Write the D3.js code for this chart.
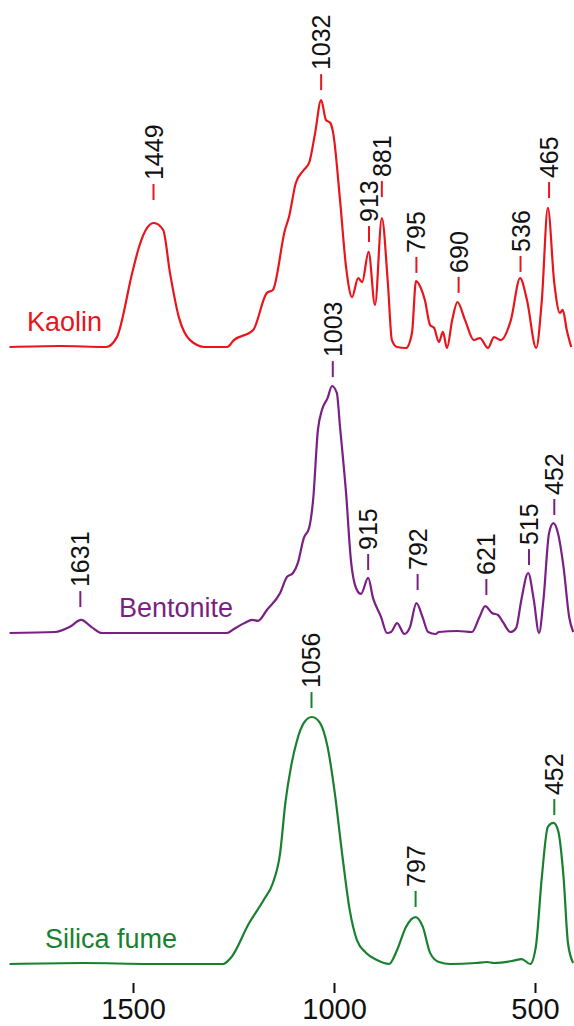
<!DOCTYPE html>
<html>
<head>
<meta charset="utf-8">
<script src="https://cdn.jsdelivr.net/npm/d3@7"></script>
<style>
  body { margin: 0; background: #fff; }
  svg { display: block; }
  text { font-family: "Liberation Sans", Arial, sans-serif; }
</style>
</head>
<body>
<svg id="ftir" width="574" height="1026"></svg>
<script>
// spectra: [wavenumber cm-1, normalised absorbance]
const kaolin = [
  [1807, 0], [1682, 0.004], [1567, 0], [1540, 0.04], [1502, 0.3], [1485, 0.405],
  [1465, 0.482], [1448, 0.502], [1425, 0.474], [1408, 0.3], [1386, 0.121], [1358, 0.028],
  [1321, 0], [1266, 0], [1249, 0.028], [1201, 0.069], [1167, 0.219], [1152, 0.231],
  [1122, 0.474], [1112, 0.526], [1095, 0.664], [1075, 0.717], [1062, 0.745], [1047, 0.866],
  [1032, 1.0], [1020, 0.919], [1009, 0.907], [1002, 0.866], [985, 0.595], [970, 0.324],
  [955, 0.202], [940, 0.279], [930, 0.263], [914, 0.385], [898, 0.17], [881, 0.522],
  [866, 0.259], [856, 0.028], [843, 0], [821, -0.004], [806, 0.057], [796, 0.267],
  [784, 0.239], [774, 0.19], [761, 0.089], [751, 0.077], [739, 0.02], [729, 0.061],
  [719, -0.004], [706, 0.109], [693, 0.182], [674, 0.109], [652, 0.028], [637, 0.036],
  [617, -0.004], [602, 0.04], [585, 0.028], [560, 0.109], [537, 0.279], [520, 0.19],
  [497, -0.004], [483, 0.19], [468, 0.563], [452, 0.259], [438, 0.138], [431, 0.15],
  [421, 0.069], [410, 0]
];

const bentonite = [
  [1807, 0], [1694, 0.004], [1658, 0.024], [1629, 0.053], [1603, 0.024], [1577, 0],
  [1433, 0], [1266, 0], [1249, 0.016], [1223, 0.04], [1203, 0.053], [1189, 0.049],
  [1167, 0.093], [1134, 0.162], [1117, 0.227], [1102, 0.243], [1090, 0.283], [1075, 0.385],
  [1062, 0.425], [1052, 0.538], [1040, 0.822], [1030, 0.903], [1016, 0.951], [1005, 1.0],
  [993, 0.972], [985, 0.834], [970, 0.567], [958, 0.296], [943, 0.174], [933, 0.158],
  [915, 0.223], [903, 0.142], [883, 0.065], [868, 0], [858, 0.004], [843, 0.04],
  [825, -0.004], [811, 0.024], [795, 0.121], [779, 0.061], [766, 0.004], [747, -0.004],
  [739, 0.004], [693, 0.008], [657, 0.004], [638, 0.065], [624, 0.109], [607, 0.081],
  [592, 0.073], [580, 0.045], [561, 0.004], [547, 0.02], [534, 0.134], [517, 0.243],
  [503, 0.134], [490, 0], [479, 0.134], [465, 0.405], [454, 0.445], [443, 0.405],
  [429, 0.267], [415, 0.065], [405, 0.004]
];

const silicaFume = [
  [1807, 0], [1622, 0.004], [1458, 0], [1276, 0], [1257, 0.024], [1211, 0.166],
  [1175, 0.259], [1152, 0.328], [1134, 0.449], [1121, 0.652], [1107, 0.798], [1093, 0.899],
  [1075, 0.976], [1055, 1.0], [1035, 0.976], [1016, 0.879], [998, 0.692], [980, 0.449],
  [961, 0.219], [943, 0.097], [920, 0.045], [893, 0.016], [863, 0], [843, 0.057],
  [821, 0.15], [797, 0.19], [779, 0.15], [761, 0.045], [739, 0.008], [711, 0],
  [647, 0.004], [619, 0.008], [602, 0.004], [557, 0.012], [533, 0.02], [512, 0],
  [498, 0.069], [483, 0.352], [468, 0.555], [454, 0.571], [443, 0.543], [429, 0.352],
  [418, 0.085], [405, 0.004]
];

// peak labels: [wavenumber, absorbance level where the marker sits]
const kaolinPeaks = [[1449, 0.595], [1032, 1.04], [913, 0.425], [881, 0.607], [795, 0.3], [690, 0.219], [536, 0.304], [465, 0.603]];
const bentonitePeaks = [[1631, 0.105], [1003, 1.036], [915, 0.255], [792, 0.174], [621, 0.154], [515, 0.275], [452, 0.478]];
const silicaPeaks = [[1056, 1.036], [797, 0.231], [452, 0.603]];

const names = ['Kaolin', 'Bentonite', 'Silica fume'];
const xTicks = [1500, 1000, 500];

// layout for each stacked trace
const panels = [
  { name: names[0], data: kaolin, peaks: kaolinPeaks, color: '#e8161c', base: 347, lx: 27, ly: 331 },
  { name: names[1], data: bentonite, peaks: bentonitePeaks, color: '#7a1f83', base: 633, lx: 119, ly: 617 },
  { name: names[2], data: silicaFume, peaks: silicaPeaks, color: '#17812e', base: 964, lx: 45, ly: 948 }
];

const svg = d3.select('#ftir');
const unit = 247; // px per absorbance unit

// reversed wavenumber axis
const x = d3.scaleLinear().domain([1500, 500]).range([133, 535]);

panels.forEach(function (p) {
  const y = d3.scaleLinear().domain([0, 1]).range([p.base, p.base - unit]);

  const line = d3.line()
    .x(d => x(d[0]))
    .y(d => y(d[1]))
    .curve(d3.curveMonotoneX);

  svg.append('path')
    .datum(p.data)
    .attr('d', line)
    .attr('fill', 'none')
    .attr('stroke', p.color)
    .attr('stroke-width', 2.2)
    .attr('stroke-linejoin', 'round');

  svg.append('text')
    .attr('x', p.lx)
    .attr('y', p.ly)
    .attr('fill', p.color)
    .style('font-size', '27px')
    .text(p.name);

  // little marker dash + rotated wavenumber
  const g = svg.append('g').selectAll('g')
    .data(p.peaks)
    .enter()
    .append('g')
    .attr('transform', d => 'translate(' + x(d[0]) + ',' + y(d[1]) + ')');

  g.append('line')
    .attr('y1', 0)
    .attr('y2', -16)
    .attr('stroke', p.color)
    .attr('stroke-width', 2);

  g.append('text')
    .attr('transform', 'translate(0,-20) rotate(-90)')
    .attr('dy', '0.36em')
    .attr('fill', '#111')
    .style('font-size', '25px')
    .text(d => d[0]);
});

// bottom axis, ticks only
const axis = svg.append('g')
  .attr('transform', 'translate(0,983)')
  .call(d3.axisBottom(x).tickValues(xTicks).tickSize(10).tickPadding(5).tickFormat(d3.format('d')));

axis.select('.domain').remove();
axis.selectAll('line').attr('stroke', '#111').attr('stroke-width', 2);
axis.selectAll('text')
  .attr('fill', '#111')
  .style('font-size', '29px')
  .style('font-family', '"Liberation Sans", Arial, sans-serif');
</script>
</body>
</html>
